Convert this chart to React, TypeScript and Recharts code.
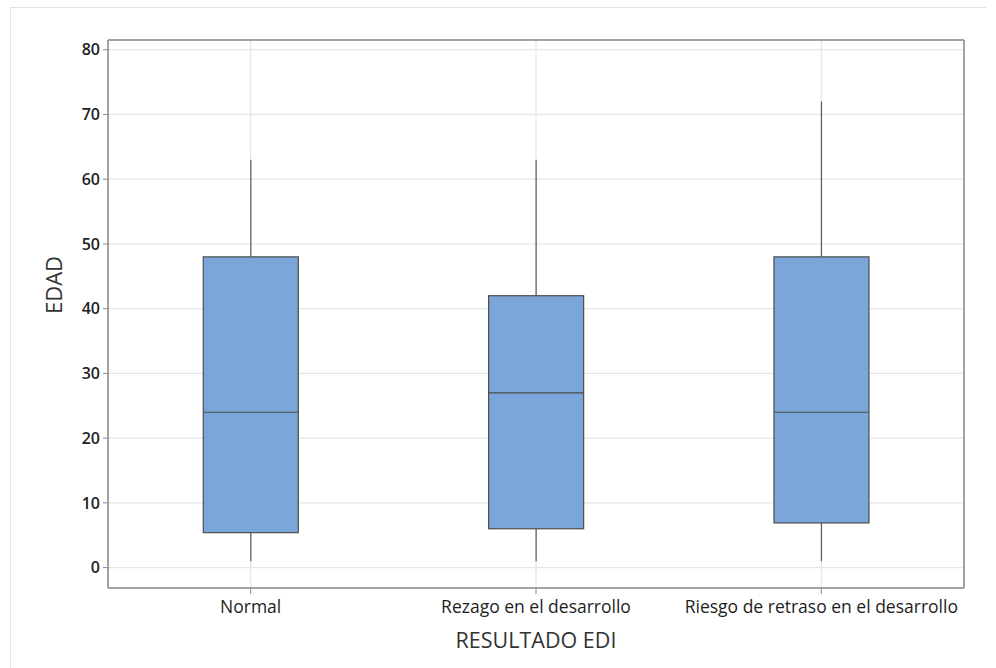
import React from "react";
import { ComposedChart, Bar, XAxis, YAxis, CartesianGrid, ReferenceLine } from "recharts";

const categories = ["Normal", "Rezago en el desarrollo", "Riesgo de retraso en el desarrollo"];
const whiskerLow = [1, 1, 1];
const q1 = [5.4, 6, 6.9];
const median = [24, 27, 24];
const q3 = [48, 42, 48];
const whiskerHigh = [63, 63, 72];
const yTicks = [0, 10, 20, 30, 40, 50, 60, 70, 80];
const Y_MIN = -3.15;
const Y_MAX = 81.5;

const data = categories.map((name, i) => ({
  name,
  lo: whiskerLow[i],
  q1: q1[i],
  med: median[i],
  q3: q3[i],
  hi: whiskerHigh[i],
}));

const BOX_FILL = "#7BA6D9";
const BOX_STROKE = "#4d4d4d";
const FRAME = "#8a8a8a";

const BoxShape = (props: any) => {
  const { x, y, width, height, payload } = props;
  if (!payload || !height) return null;
  const ppu = height / (payload.hi - payload.lo);
  const py = (v: number) => y + (payload.hi - v) * ppu;
  const cx = x + width / 2;
  return (
    <g>
      <line x1={cx} x2={cx} y1={py(payload.hi)} y2={py(payload.lo)} stroke="#5a5a5a" strokeWidth={1.2} />
      <rect
        x={x}
        y={py(payload.q3)}
        width={width}
        height={py(payload.q1) - py(payload.q3)}
        fill={BOX_FILL}
        stroke={BOX_STROKE}
        strokeWidth={1.2}
      />
      <line x1={x} x2={x + width} y1={py(payload.med)} y2={py(payload.med)} stroke={BOX_STROKE} strokeWidth={1.2} />
    </g>
  );
};

const FONT = "'Open Sans', 'Noto Sans', sans-serif";

export default function App() {
  return (
    <div style={{ position: "absolute", left: 0, top: 0, width: 996, height: 668, background: "#fff", fontFamily: FONT }}>
      <div
        style={{
          position: "absolute",
          left: 10,
          top: 7,
          width: 976,
          height: 661,
          borderLeft: "1.5px solid #e2e2e2",
          borderTop: "1.5px solid #e2e2e2",
          boxSizing: "border-box",
        }}
      />
      <div style={{ position: "absolute", left: 0, top: 0 }}>
        <ComposedChart
          width={996}
          height={668}
          data={data}
          margin={{ top: 40, right: 32, bottom: 0, left: 0 }}
          barCategoryGap="33.4%"
        >
          <CartesianGrid stroke="#e6e6e6" strokeWidth={1.2} vertical={true} horizontal={true} />
          <XAxis
            dataKey="name"
            height={80}
            axisLine={{ stroke: FRAME, strokeWidth: 1.5 }}
            tickLine={{ stroke: FRAME }}
            tickSize={6}
            tick={{ fill: "#1e1e1e", fontSize: 17.5, fontFamily: FONT, fontWeight: 500 }}
            tickMargin={7}
            interval={0}
            label={{ value: "RESULTADO EDI", position: "insideBottom", offset: 20, fill: "#333", fontSize: 21.5, fontFamily: FONT }}
          />
          <YAxis
            width={108}
            domain={[Y_MIN, Y_MAX]}
            ticks={yTicks}
            allowDataOverflow
            axisLine={{ stroke: FRAME, strokeWidth: 1.5 }}
            tickLine={{ stroke: FRAME }}
            tickSize={5}
            tickMargin={3}
            tick={{ fill: "#222", fontSize: 16, fontFamily: FONT, fontWeight: 600 }}
            label={{ value: "EDAD", angle: -90, position: "insideLeft", offset: 54, fill: "#333", fontSize: 22, fontFamily: FONT }}
          />
          <ReferenceLine y={Y_MAX} stroke={FRAME} strokeWidth={1.5} ifOverflow="visible" />
          <ReferenceLine
            x={categories[categories.length - 1]}
            position="end"
            stroke={FRAME}
            strokeWidth={1.5}
            ifOverflow="visible"
          />
          <Bar
            dataKey={(d: any) => [d.lo, d.hi]}
            shape={BoxShape}
            isAnimationActive={false}
          />
        </ComposedChart>
      </div>
    </div>
  );
}
